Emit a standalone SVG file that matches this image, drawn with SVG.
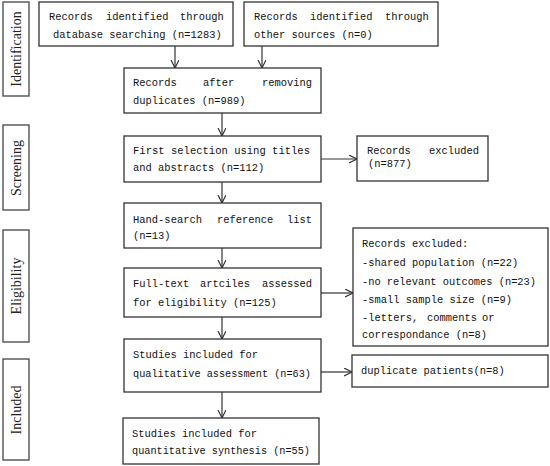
<svg xmlns="http://www.w3.org/2000/svg" width="550" height="466" viewBox="0 0 550 466">
<defs>
<style>
.box{fill:#fff;stroke:#333;stroke-width:1.3}
.side{fill:#fff;stroke:#444;stroke-width:1.3}
.t{font-family:"Liberation Mono",monospace;font-size:11.2px;fill:#111}
.s{font-family:"Liberation Serif",serif;font-size:14px;fill:#222;text-anchor:middle}
.c{stroke:#333;stroke-width:1.2;fill:none}
</style>
<marker id="ah" markerWidth="10" markerHeight="10" refX="8" refY="4" orient="auto" markerUnits="userSpaceOnUse">
<path d="M0,0 L8,4 L0,8" fill="none" stroke="#333" stroke-width="1.2"/>
</marker>
</defs>
<rect width="550" height="466" fill="#fff"/>

<g id="side-identification"><rect class="side" x="3" y="2" width="26" height="94"/><text class="s" transform="translate(21,49) rotate(-90)">Identification</text></g>
<g id="side-screening"><rect class="side" x="3" y="125" width="26" height="85"/><text class="s" transform="translate(21,168) rotate(-90)">Screening</text></g>
<g id="side-eligibility"><rect class="side" x="3" y="230" width="26" height="112"/><text class="s" transform="translate(21,286) rotate(-90)">Eligibility</text></g>
<g id="side-included"><rect class="side" x="3" y="359" width="26" height="101"/><text class="s" transform="translate(21,410) rotate(-90)">Included</text></g>

<g id="connectors">
<line class="c" x1="175" y1="46" x2="175" y2="68" marker-end="url(#ah)"/>
<line class="c" x1="262" y1="46" x2="262" y2="68" marker-end="url(#ah)"/>
<line class="c" x1="222" y1="113" x2="222" y2="136" marker-end="url(#ah)"/>
<line class="c" x1="321" y1="159" x2="357" y2="159" marker-end="url(#ah)"/>
<line class="c" x1="222" y1="182" x2="222" y2="203" marker-end="url(#ah)"/>
<line class="c" x1="222" y1="248" x2="222" y2="268" marker-end="url(#ah)"/>
<line class="c" x1="321" y1="293" x2="353" y2="293" marker-end="url(#ah)"/>
<line class="c" x1="222" y1="317" x2="222" y2="339" marker-end="url(#ah)"/>
<line class="c" x1="321" y1="372" x2="352" y2="372" marker-end="url(#ah)"/>
<line class="c" x1="222" y1="392" x2="222" y2="418" marker-end="url(#ah)"/>
</g>

<g id="n1"><rect class="box" x="39" y="2" width="194" height="44"/>
<text class="t" x="49" y="20" textLength="43.75" lengthAdjust="spacingAndGlyphs">Records</text>
<text class="t" x="106" y="20" textLength="62.5" lengthAdjust="spacingAndGlyphs">identified</text>
<text class="t" x="180" y="20" textLength="43.75" lengthAdjust="spacingAndGlyphs">through</text>
<text class="t" x="53" y="38" textLength="168.75" lengthAdjust="spacingAndGlyphs">database searching (n=1283)</text></g>

<g id="n2"><rect class="box" x="244" y="2" width="194" height="44"/>
<text class="t" x="254" y="20" textLength="43.75" lengthAdjust="spacingAndGlyphs">Records</text>
<text class="t" x="310" y="20" textLength="62.5" lengthAdjust="spacingAndGlyphs">identified</text>
<text class="t" x="385" y="20" textLength="43.75" lengthAdjust="spacingAndGlyphs">through</text>
<text class="t" x="254" y="38" textLength="118.75" lengthAdjust="spacingAndGlyphs">other sources (n=0)</text></g>

<g id="n3"><rect class="box" x="124" y="68" width="197" height="45"/>
<text class="t" x="133" y="86" textLength="43.75" lengthAdjust="spacingAndGlyphs">Records</text>
<text class="t" x="203" y="86" textLength="31.25" lengthAdjust="spacingAndGlyphs">after</text>
<text class="t" x="262" y="86" textLength="50" lengthAdjust="spacingAndGlyphs">removing</text>
<text class="t" x="133" y="104" textLength="112.5" lengthAdjust="spacingAndGlyphs">duplicates (n=989)</text></g>

<g id="n4"><rect class="box" x="124" y="136" width="197" height="46"/>
<text class="t" x="133" y="154" textLength="177" lengthAdjust="spacingAndGlyphs">First selection using titles</text>
<text class="t" x="133" y="171" textLength="131.25" lengthAdjust="spacingAndGlyphs">and abstracts (n=112)</text></g>

<g id="n5"><rect class="box" x="357" y="136" width="131" height="45"/>
<text class="t" x="367" y="154" textLength="43.75" lengthAdjust="spacingAndGlyphs">Records</text>
<text class="t" x="429" y="154" textLength="50" lengthAdjust="spacingAndGlyphs">excluded</text>
<text class="t" x="368" y="167" textLength="43.75" lengthAdjust="spacingAndGlyphs">(n=877)</text></g>

<g id="n6"><rect class="box" x="124" y="203" width="197" height="45"/>
<text class="t" x="133" y="223" textLength="69" lengthAdjust="spacingAndGlyphs">Hand-search</text>
<text class="t" x="217" y="223" textLength="56.25" lengthAdjust="spacingAndGlyphs">reference</text>
<text class="t" x="287" y="223" textLength="25" lengthAdjust="spacingAndGlyphs">list</text>
<text class="t" x="133" y="239" textLength="37.5" lengthAdjust="spacingAndGlyphs">(n=13)</text></g>

<g id="n7"><rect class="box" x="124" y="268" width="197" height="49"/>
<text class="t" x="133" y="287" textLength="56.25" lengthAdjust="spacingAndGlyphs">Full-text</text>
<text class="t" x="200" y="287" textLength="50" lengthAdjust="spacingAndGlyphs">artciles</text>
<text class="t" x="262" y="287" textLength="50" lengthAdjust="spacingAndGlyphs">assessed</text>
<text class="t" x="133" y="306" textLength="143.75" lengthAdjust="spacingAndGlyphs">for eligibility (n=125)</text></g>

<g id="n8"><rect class="box" x="353" y="228" width="195" height="118"/>
<text class="t" x="362" y="247" textLength="106.25" lengthAdjust="spacingAndGlyphs">Records excluded:</text>
<text class="t" x="362" y="266" textLength="156.25" lengthAdjust="spacingAndGlyphs">-shared population (n=22)</text>
<text class="t" x="362" y="285" textLength="174" lengthAdjust="spacingAndGlyphs">-no relevant outcomes (n=23)</text>
<text class="t" x="362" y="303" textLength="150" lengthAdjust="spacingAndGlyphs">-small sample size (n=9)</text>
<text class="t" x="362" y="321" textLength="56.25" lengthAdjust="spacingAndGlyphs">-letters,</text>
<text class="t" x="427" y="321" textLength="50" lengthAdjust="spacingAndGlyphs">comments</text>
<text class="t" x="482" y="321" textLength="12.5" lengthAdjust="spacingAndGlyphs">or</text>
<text class="t" x="362" y="338" textLength="125" lengthAdjust="spacingAndGlyphs">correspondance (n=8)</text></g>

<g id="n9"><rect class="box" x="124" y="339" width="197" height="53"/>
<text class="t" x="133" y="358" textLength="125" lengthAdjust="spacingAndGlyphs">Studies included for</text>
<text class="t" x="133" y="377" textLength="178" lengthAdjust="spacingAndGlyphs">qualitative assessment (n=63)</text></g>

<g id="n10"><rect class="box" x="352" y="355" width="196" height="32"/>
<text class="t" x="361" y="374" textLength="143.75" lengthAdjust="spacingAndGlyphs">duplicate patients(n=8)</text></g>

<g id="n11"><rect class="box" x="123" y="418" width="196" height="46"/>
<text class="t" x="132" y="437" textLength="125" lengthAdjust="spacingAndGlyphs">Studies included for</text>
<text class="t" x="132" y="454" textLength="178" lengthAdjust="spacingAndGlyphs">quantitative synthesis (n=55)</text></g>
</svg>
